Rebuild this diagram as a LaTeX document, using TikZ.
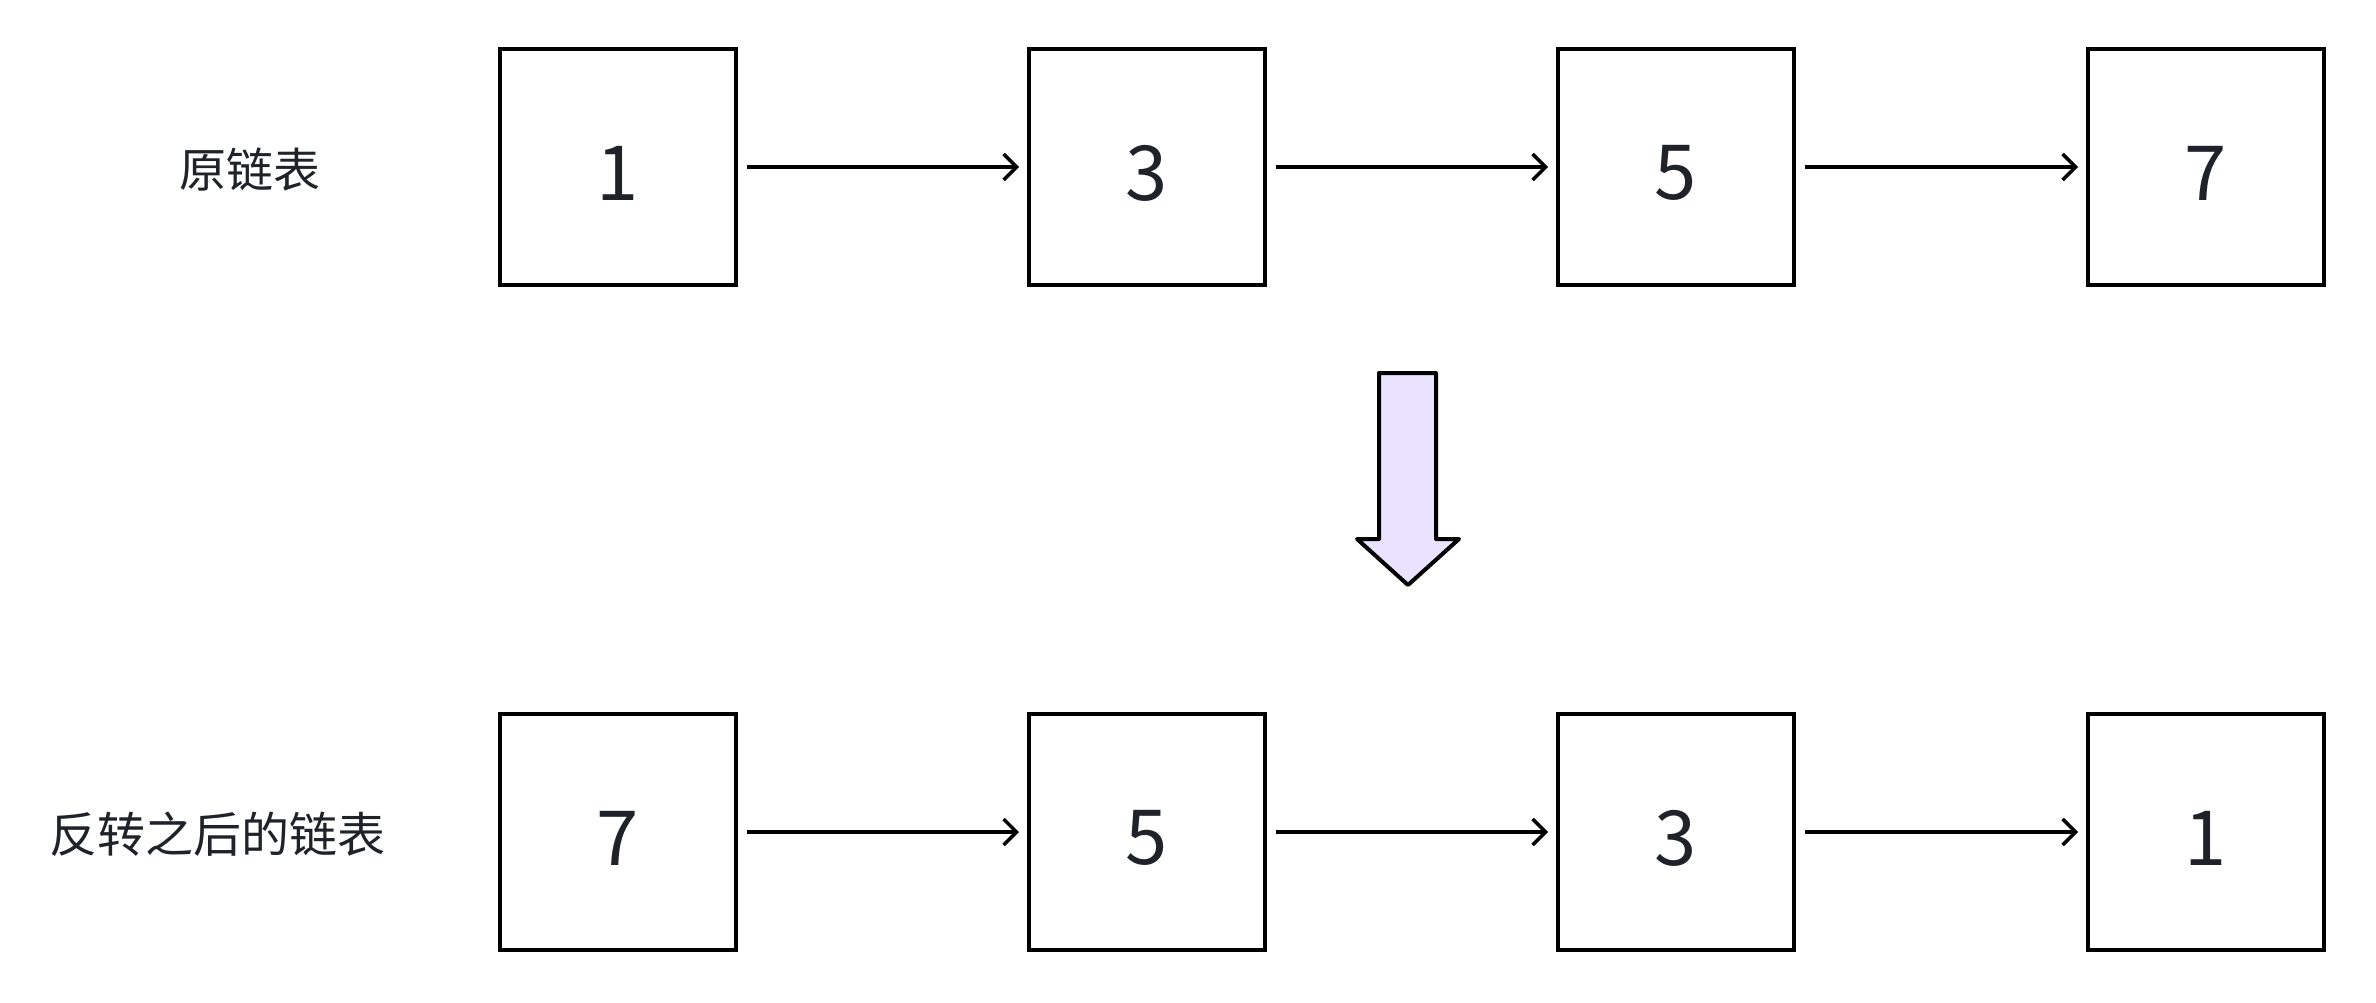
\documentclass[tikz,border=0pt]{standalone}
\usepackage{fontspec}
\setmainfont{Noto Sans}
\newfontfamily\cjk{Noto Sans CJK SC}
\usetikzlibrary{arrows.meta}
\definecolor{txt}{RGB}{31,35,41}
\definecolor{lav}{RGB}{234,227,255}
\newcommand{\digitlow}[1]{\raisebox{-3pt}[\height][\depth]{#1}}
\tikzset{
  cell/.style={draw=black, line width=2pt, minimum size=118pt, inner sep=0pt,
    text=txt, font=\cjk\fontsize{38}{42}\selectfont},
  conn/.style={draw=black, line width=1.75pt, -{Straight Barb[length=6.5pt,width=13pt,line width=1.75pt]},
    shorten >=4pt, shorten <=4.5pt},
  lbl/.style={text=txt, font=\cjk\fontsize{23.5}{28}\selectfont, inner sep=0pt},
  bigarrow/.style={draw=black, line width=2pt, fill=lav, line join=round}
}
\begin{document}
\begin{tikzpicture}[x=0.5pt,y=-0.5pt]
\useasboundingbox (0,0) rectangle (2376,1002);
% top row
\node[lbl] (l1) at (250,170) {原链表};
\node[cell] (a1) at (618,167) {\digitlow{1}};
\node[cell] (a2) at (1147,167) {\digitlow{3}};
\node[cell] (a3) at (1676,167) {\digitlow{5}};
\node[cell] (a4) at (2206,167) {\digitlow{7}};
\draw[conn] (a1) -- (a2);
\draw[conn] (a2) -- (a3);
\draw[conn] (a3) -- (a4);
% big arrow
\draw[bigarrow] (1379,373) -- (1436,373) -- (1436,539) -- (1459,539) -- (1408,585)
  -- (1357,539) -- (1379,539) -- cycle;
% bottom row
\node[lbl, font=\cjk\fontsize{24}{28}\selectfont] (l2) at (217,834) {反转之后的链表};
\node[cell] (b1) at (618,832) {\digitlow{7}};
\node[cell] (b2) at (1147,832) {\digitlow{5}};
\node[cell] (b3) at (1676,832) {\digitlow{3}};
\node[cell] (b4) at (2206,832) {\digitlow{1}};
\draw[conn] (b1) -- (b2);
\draw[conn] (b2) -- (b3);
\draw[conn] (b3) -- (b4);
\end{tikzpicture}
\end{document}
